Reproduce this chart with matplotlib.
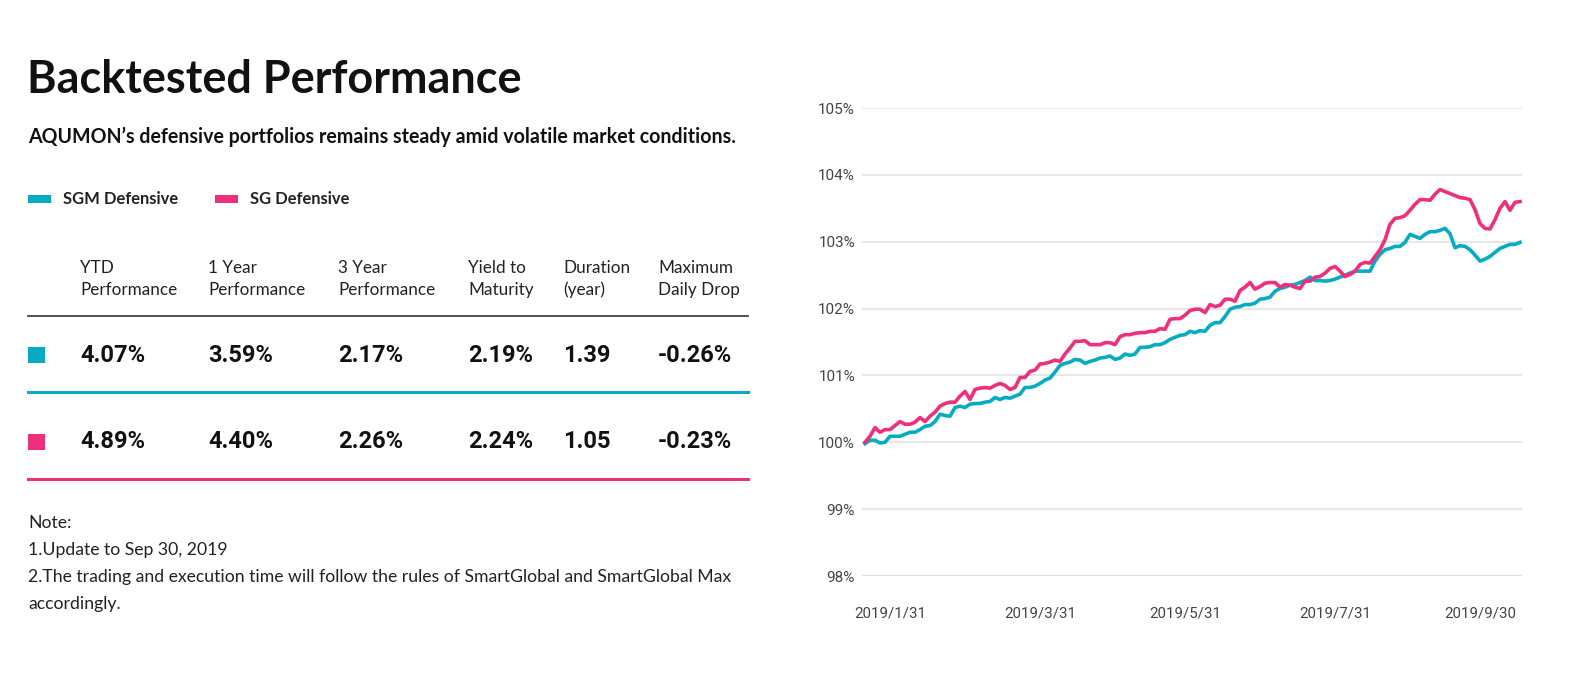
import numpy as np
import matplotlib
matplotlib.use("Agg")
import matplotlib.pyplot as plt

# warna
TEAL = '#05acc2'
PINK = '#ef2f7b'

# data kurva (nilai portofolio, %)
sgm_values = [
    99.98, 100.03, 100.03, 99.99, 100.00, 100.09, 100.09, 100.09, 100.12, 100.15,
    100.15, 100.19, 100.24, 100.25, 100.31, 100.42, 100.40, 100.39, 100.52, 100.54,
    100.52, 100.57, 100.58, 100.58, 100.60, 100.61, 100.67, 100.64, 100.67, 100.66,
    100.69, 100.72, 100.82, 100.82, 100.84, 100.88, 100.93, 100.96, 101.05, 101.15,
    101.18, 101.20, 101.24, 101.23, 101.18, 101.21, 101.23, 101.26, 101.27, 101.29,
    101.24, 101.26, 101.32, 101.30, 101.32, 101.42, 101.42, 101.43, 101.46, 101.46,
    101.49, 101.54, 101.57, 101.60, 101.61, 101.66, 101.64, 101.67, 101.66, 101.75,
    101.79, 101.79, 101.88, 101.99, 102.02, 102.03, 102.06, 102.06, 102.08, 102.14,
    102.15, 102.17, 102.26, 102.30, 102.32, 102.35, 102.36, 102.39, 102.42, 102.47,
    102.42, 102.42, 102.41, 102.42, 102.44, 102.47, 102.50, 102.53, 102.56, 102.56,
    102.56, 102.56, 102.71, 102.81, 102.88, 102.90, 102.93, 102.93, 102.99, 103.11,
    103.08, 103.05, 103.11, 103.15, 103.15, 103.17, 103.20, 103.12, 102.91, 102.94,
    102.93, 102.88, 102.80, 102.71, 102.74, 102.78, 102.84, 102.90, 102.93, 102.96,
    102.96, 102.99,
]
sg_values = [
    100.00, 100.09, 100.22, 100.15, 100.19, 100.19, 100.25, 100.31, 100.27, 100.27,
    100.30, 100.37, 100.31, 100.39, 100.45, 100.54, 100.58, 100.60, 100.60, 100.69,
    100.76, 100.64, 100.79, 100.81, 100.82, 100.81, 100.85, 100.88, 100.85, 100.79,
    100.82, 100.97, 100.97, 101.06, 101.08, 101.17, 101.18, 101.20, 101.23, 101.21,
    101.32, 101.41, 101.51, 101.51, 101.52, 101.46, 101.46, 101.46, 101.49, 101.49,
    101.46, 101.58, 101.61, 101.61, 101.63, 101.64, 101.64, 101.66, 101.66, 101.70,
    101.69, 101.84, 101.85, 101.85, 101.90, 101.97, 101.99, 101.99, 101.94, 102.06,
    102.03, 102.05, 102.14, 102.14, 102.11, 102.27, 102.32, 102.39, 102.29, 102.33,
    102.38, 102.39, 102.39, 102.32, 102.36, 102.35, 102.32, 102.30, 102.41, 102.41,
    102.47, 102.48, 102.53, 102.60, 102.63, 102.56, 102.48, 102.51, 102.56, 102.66,
    102.69, 102.68, 102.78, 102.88, 103.03, 103.26, 103.35, 103.36, 103.39, 103.47,
    103.56, 103.63, 103.63, 103.62, 103.71, 103.78, 103.75, 103.72, 103.69, 103.66,
    103.65, 103.63, 103.48, 103.27, 103.20, 103.19, 103.33, 103.50, 103.60, 103.47,
    103.59, 103.60,
]

# label sumbu x (posisi dalam indeks data)
date_labels = ['2019/1/31', '2019/3/31', '2019/5/31', '2019/7/31', '2019/9/30']
date_pos = [5, 35, 64, 94, 123]
y_ticks = [98, 99, 100, 101, 102, 103, 104, 105]

# tabel
series_names = ['SGM Defensive', 'SG Defensive']
headers = ['YTD\nPerformance', '1 Year\nPerformance', '3 Year\nPerformance',
           'Yield to\nMaturity', 'Duration\n(year)', 'Maximum\nDaily Drop']
sgm_stats = ['4.07%', '3.59%', '2.17%', '2.19%', '1.39', '-0.26%']
sg_stats = ['4.89%', '4.40%', '2.26%', '2.24%', '1.05', '-0.23%']
notes = ['Note:', '1.Update to Sep 30, 2019',
         '2.The trading and execution time will follow the rules of SmartGlobal and SmartGlobal Max',
         'accordingly.']

TEXT_FONT = ['Lato', 'DejaVu Sans']
NUM_FONT = ['Roboto', 'DejaVu Sans']

W, H = 1569, 674
fig = plt.figure(figsize=(W / 100, H / 100), dpi=100)

# kanvas kiri dalam koordinat piksel
bg = fig.add_axes([0, 0, 1, 1])
bg.set_xlim(0, W)
bg.set_ylim(H, 0)
bg.axis('off')

bg.text(27, 80, 'Backtested Performance', fontsize=32.4, fontweight='bold',
        family=TEXT_FONT, color='#111111', va='center', ha='left')
bg.text(28, 137, "AQUMON\u2019s defensive portfolios remains steady amid volatile market conditions.",
        fontsize=14.1, fontweight='bold', family=TEXT_FONT, color='#111111', va='center')

# legenda
colors = [TEAL, PINK]
leg_x = [28, 215]
for name, c, lx in zip(series_names, colors, leg_x):
    bg.add_patch(plt.Rectangle((lx, 195), 23, 8, color=c, lw=0))
    bg.text(lx + 35, 199, name, fontsize=11.9, fontweight='bold', family=TEXT_FONT,
            color='#222222', va='center')

# header tabel
col_x = [80, 208, 338, 468, 563, 658]
for hx, h in zip(col_x, headers):
    bg.text(hx, 279, h, fontsize=12.3, family=TEXT_FONT, color='#222222',
            va='center', linespacing=1.4)
bg.plot([28, 748], [316, 316], color='#444444', lw=1.3)

# baris tabel
row_y = [355, 442]
line_y = [392, 479]
for stats, c, ry, ly in zip([sgm_stats, sg_stats], colors, row_y, line_y):
    bg.add_patch(plt.Rectangle((28, ry - 8), 17, 16, color=c, lw=0))
    for hx, s in zip(col_x, stats):
        bg.text(hx, ry, s, fontsize=17, fontweight='bold', family=NUM_FONT,
                color='#111111', va='center')
    bg.plot([28, 748], [ly, ly], color=c, lw=2.2)

# catatan
for i, n in enumerate(notes):
    bg.text(28, 523 + i * 27, n, fontsize=12.7, family=TEXT_FONT, color='#222222',
            va='center')

# grafik kanan
ax = fig.add_axes([862 / W, 1 - 576 / H, 660 / W, 468 / H])
x = np.arange(len(sgm_values))
ax.plot(x, sgm_values, color=TEAL, lw=2.6, solid_joinstyle='round')
ax.plot(x, sg_values, color=PINK, lw=2.6, solid_joinstyle='round')
ax.set_xlim(-0.6, len(x) - 0.6)
ax.set_ylim(98, 105)
ax.set_yticks(y_ticks)
ax.set_yticklabels([f'{t}%' for t in y_ticks])
ax.set_xticks(date_pos)
ax.set_xticklabels(date_labels)
ax.grid(axis='y', color='#e3e3e3', lw=1.2)
ax.set_axisbelow(True)
for s in ax.spines.values():
    s.set_visible(False)
ax.axhline(98, color='#d0d0d0', lw=1.5, zorder=0)
ax.tick_params(axis='both', length=0, colors='#444444')
ax.tick_params(axis='x', pad=22, labelsize=10.8)
ax.tick_params(axis='y', pad=5, labelsize=11)
for lab in ax.get_xticklabels() + ax.get_yticklabels():
    lab.set_family(NUM_FONT)

fig.savefig('out.png', dpi=100)
